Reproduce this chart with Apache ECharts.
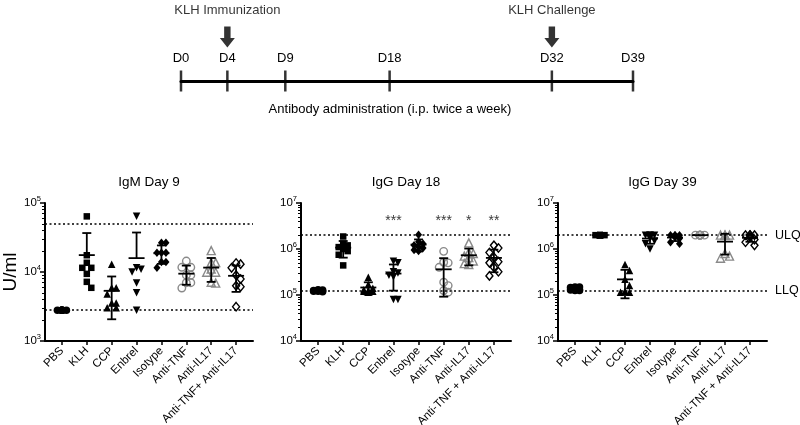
<!DOCTYPE html>
<html><head><meta charset="utf-8">
<script src="https://cdn.jsdelivr.net/npm/echarts@6/dist/echarts.min.js"></script>
<style>html,body{margin:0;padding:0;background:#fff}#c{width:800px;height:425px}</style>
</head><body><div id="c"></div>
<script>
// ================= DATA =================
// Timeline (schematic)
const timelineDays = [0, 4, 9, 18, 32, 39];
const eventDays = [4, 32];
const eventLabels = ['KLH Immunization', 'KLH Challenge'];
const timelineCaption = 'Antibody administration (i.p. twice a week)';

// Categories
const groupsIgM = ['PBS', 'KLH', 'CCP', 'Enbrel', 'Isotype', 'Anti-TNF', 'Anti-IL17', 'Anti-TNF+ Anti-IL17'];
const groupsIgG = ['PBS', 'KLH', 'CCP', 'Enbrel', 'Isotype', 'Anti-TNF', 'Anti-IL17', 'Anti-TNF + Anti-IL17'];
const panelTitles = ['IgM Day 9', 'IgG Day 18', 'IgG Day 39'];
const yAxisName = 'U/ml';

// Axis ranges (U/ml, log10)
const yMin = [1e3, 1e4, 1e4];
const yMax = [1e5, 1e7, 1e7];

// Quantification limits
const igmLimits = [5e4, 2.8e3];
const iggLimits = [2e6, 1.25e5];
const limitNames = ['ULQ', 'LLQ'];

// Individual animals, per group (order = categories)
const igmDay9 = [
  [2800, 2800, 2800, 2800, 2800, 2800, 2800, 2800],
  [64000, 17500, 13600, 11500, 11500, 9400, 7200, 5900],
  [12900, 5900, 5900, 4800, 3560, 3560, 3040, 3040],
  [64000, 11500, 11000, 10000, 6900, 5000, 2800],
  [26500, 26500, 19000, 19000, 19000, 14000, 14000, 11500],
  [14400, 11700, 11700, 9000, 9000, 7000, 7000, 5850],
  [20400, 13700, 13700, 11000, 9900, 9900, 7100, 6900],
  [13500, 13000, 11500, 9000, 7900, 6300, 6100, 3140]
];
const iggDay18 = [
  [130000, 128000, 125000, 125000, 122000, 120000, 120000, 118000],
  [1870000, 1300000, 1200000, 1100000, 1000000, 900000, 750000, 440000],
  [244000, 170000, 140000, 130000, 125000, 120000, 120000, 115000],
  [540000, 500000, 320000, 300000, 270000, 250000, 80000, 80000],
  [2040000, 1440000, 1300000, 1200000, 1100000, 1050000, 950000, 900000],
  [890000, 515000, 500000, 400000, 190000, 160000, 125000, 115000],
  [1360000, 850000, 800000, 700000, 650000, 550000, 480000, 460000],
  [1200000, 1050000, 840000, 660000, 530000, 500000, 400000, 320000, 260000]
];
const sigDay18 = ['', '', '', '***', '', '***', '*', '**'];
const iggDay39 = [
  [150000, 150000, 145000, 140000, 130000, 128000, 125000, 125000],
  [2000000, 2000000, 2000000, 2000000, 2000000, 2000000, 2000000, 2000000],
  [460000, 340000, 220000, 160000, 120000, 115000, 115000],
  [2000000, 2000000, 2000000, 2000000, 1700000, 1500000, 1300000, 1000000],
  [2000000, 2000000, 2000000, 2000000, 1800000, 1700000, 1400000, 1300000],
  [2000000, 2000000, 2000000, 2000000, 2000000, 2000000, 2000000, 2000000],
  [2000000, 2000000, 2000000, 2000000, 800000, 700000, 630000],
  [2000000, 2000000, 2000000, 2000000, 1800000, 1600000, 1400000, 1200000]
];

// ================= LAYOUT / STYLE =================
const FONT = "'Liberation Sans', Arial, Helvetica, sans-serif";
const panelData = [igmDay9, iggDay18, iggDay39];
const panelCats = [groupsIgM, groupsIgG, groupsIgG];
const panelLimits = [igmLimits, iggLimits, iggLimits];
const panelBox = [{ left: 45, width: 208 }, { left: 301, width: 210 }, { left: 558, width: 209 }];
const PLOT_TOP = 203, PLOT_H = 138;
const X_PAD = 0.68;
const SIG_LEVEL = 4e6;      // vertical placement of significance stars (panel 2)
const GRAY = '#8a8a8a';

const groupStyle = [
  { symbol: 'circle', size: 7.5, color: '#000', border: '#000' },
  { symbol: 'rect', size: 6.5, color: '#000', border: '#000' },
  { symbol: 'triangle', size: 7.5, color: '#000', border: '#000' },
  { symbol: 'triangle', size: 7.5, color: '#000', border: '#000', rotate: 180 },
  { symbol: 'diamond', size: [7, 8.5], color: '#000', border: '#000' },
  { symbol: 'circle', size: 7.5, color: 'rgba(255,255,255,0)', border: GRAY, open: true },
  { symbol: 'triangle', size: 8, color: 'rgba(255,255,255,0)', border: GRAY, open: true },
  { symbol: 'diamond', size: [7, 8.5], color: 'rgba(255,255,255,0)', border: '#000', open: true }
];

function meanSd(vals) {
  const n = vals.length;
  const m = vals.reduce((a, b) => a + b, 0) / n;
  const sd = n > 1 ? Math.sqrt(vals.reduce((a, b) => a + (b - m) * (b - m), 0) / (n - 1)) : 0;
  return [m, sd];
}

// simple deterministic beeswarm (pixel offsets) so overlapping points spread sideways
function swarmOffsets(vals, pxPerDecade) {
  const cands = [0, 4.5, -4.5];
  const placed = [];
  return vals.map(v => {
    const y = Math.log10(v) * pxPerDecade;
    let best = 0, bestD = -1;
    for (const dx of cands) {
      let minD = Infinity;
      for (const p of placed) minD = Math.min(minD, Math.hypot(p[0] - dx, p[1] - y));
      if (minD >= 6.5) { best = dx; break; }
      if (minD > bestD) { bestD = minD; best = dx; }
    }
    placed.push([best, y]);
    return best;
  });
}

const grid = [], xAxis = [], yAxis = [], series = [], title = [];
const tickLine = { color: '#000', width: 1.5 };

panelData.forEach((groupVals, k) => {
  const box = panelBox[k];
  const cats = panelCats[k];
  grid.push({ left: box.left, width: box.width, top: PLOT_TOP, height: PLOT_H, containLabel: false, outerBoundsMode: 'none' });
  const idx = cats.map((_, i) => i);
  xAxis.push({
    type: 'value', gridIndex: k, min: -X_PAD, max: cats.length - 1 + X_PAD,
    axisLine: { show: true, onZero: false, lineStyle: { color: '#000', width: 2 } },
    axisTick: { show: true, customValues: idx, length: 4, lineStyle: tickLine },
    axisLabel: { customValues: idx, formatter: v => cats[v], rotate: 45, fontSize: 11.5, color: '#000', margin: 8, fontFamily: FONT },
    splitLine: { show: false }
  });
  const lo = Math.round(Math.log10(yMin[k])), hi = Math.round(Math.log10(yMax[k]));
  const majors = [], minors = [];
  for (let e = lo; e <= hi; e++) {
    majors.push(Math.pow(10, e));
    if (e < hi) for (let m = 2; m <= 9; m++) minors.push(m * Math.pow(10, e));
  }
  yAxis.push({
    type: 'log', logBase: 10, gridIndex: k, min: yMin[k], max: yMax[k], position: 'left',
    axisLine: { show: true, onZero: false, lineStyle: { color: '#000', width: 2 } },
    axisTick: { show: true, customValues: majors, length: 5, lineStyle: tickLine },
    axisLabel: {
      customValues: majors, margin: 4,
      formatter: v => '{b|10}{s|' + Math.round(Math.log10(v)) + '}',
      rich: {
        b: { fontSize: 11.5, lineHeight: 16, color: '#000', fontFamily: FONT },
        s: { fontSize: 7.5, lineHeight: 9, verticalAlign: 'top', color: '#000', fontFamily: FONT }
      }
    },
    splitLine: { show: false },
    name: k === 0 ? yAxisName : '', nameLocation: 'middle', nameGap: 22, nameRotate: 90,
    nameTextStyle: { fontSize: 19, color: '#000', fontFamily: FONT }
  });
  yAxis.push({
    type: 'log', logBase: 10, gridIndex: k, min: yMin[k], max: yMax[k], position: 'left', offset: 0,
    axisLine: { show: false, onZero: false },
    axisTick: { show: true, customValues: minors, length: 3, lineStyle: { color: '#000', width: 1 } },
    axisLabel: { show: false }, splitLine: { show: false }
  });

  const pxPerDecade = PLOT_H / (hi - lo);
  groupVals.forEach((vals, i) => {
    const st = groupStyle[i];
    const offs = swarmOffsets(vals, pxPerDecade);
    const s = {
      type: 'scatter', xAxisIndex: k, yAxisIndex: 2 * k, clip: false, silent: true, z: 3,
      symbol: st.symbol, symbolSize: st.size, symbolRotate: st.rotate || 0,
      itemStyle: { color: st.color, borderColor: st.border, borderWidth: st.open ? 1.4 : 0, opacity: 1 },
      data: vals.map((v, j) => ({ value: [i, v], symbolOffset: [offs[j], 0] }))
    };
    if (i === 0) {
      s.markLine = {
        silent: true, symbol: 'none', animation: false,
        lineStyle: { color: '#000', type: [2, 2.5], width: 1.5 },
        label: { show: k === 2, position: 'end', distance: 8, formatter: p => p.name, fontSize: 12.5, color: '#000', fontFamily: FONT },
        data: panelLimits[k].map((v, j) => ({ yAxis: v, name: limitNames[j] }))
      };
    }
    series.push(s);
  });

  // mean ± SD
  series.push({
    type: 'custom', xAxisIndex: k, yAxisIndex: 2 * k, z: 5, clip: false, silent: true,
    data: groupVals.map((vals, i) => { const ms = meanSd(vals); return [i, ms[0], ms[1]]; }),
    encode: { x: 0, y: 1 },
    renderItem: (params, api) => {
      const i = api.value(0), m = api.value(1), sd = api.value(2);
      const c = api.coord([i, m]);
      const st = { stroke: '#000', lineWidth: 1.8 };
      const ch = [{ type: 'line', shape: { x1: c[0] - 8, y1: c[1], x2: c[0] + 8, y2: c[1] }, style: st }];
      if (sd > 0) {
        const h = api.coord([i, m + sd]);
        ch.push({ type: 'line', shape: { x1: c[0], y1: c[1], x2: c[0], y2: h[1] }, style: st });
        ch.push({ type: 'line', shape: { x1: c[0] - 4.5, y1: h[1], x2: c[0] + 4.5, y2: h[1] }, style: st });
        if (m - sd > 0) {
          const l = api.coord([i, m - sd]);
          ch.push({ type: 'line', shape: { x1: c[0], y1: c[1], x2: c[0], y2: l[1] }, style: st });
          ch.push({ type: 'line', shape: { x1: c[0] - 4.5, y1: l[1], x2: c[0] + 4.5, y2: l[1] }, style: st });
        }
      }
      return { type: 'group', children: ch };
    }
  });

  title.push({
    text: panelTitles[k], left: box.left + box.width / 2, top: 175, textAlign: 'center', padding: 0,
    textStyle: { fontSize: 13.5, fontWeight: 'normal', color: '#000', fontFamily: FONT }
  });
});

// significance stars (IgG Day 18)
series.push({
  type: 'scatter', xAxisIndex: 1, yAxisIndex: 2, symbolSize: 1, silent: true, clip: false, z: 6,
  itemStyle: { color: 'rgba(0,0,0,0)' },
  label: { show: true, position: 'inside', fontSize: 14, color: '#000', fontFamily: FONT },
  data: sigDay18.map((s, i) => ({ value: [i, SIG_LEVEL], label: { formatter: s } })).filter((d, i) => sigDay18[i] !== '')
});

// ---- timeline ----
const TL = grid.length;
grid.push({ left: 181, width: 452, top: 71, height: 20, containLabel: false, outerBoundsMode: 'none' });
xAxis.push({
  type: 'value', gridIndex: TL, min: timelineDays[0], max: timelineDays[timelineDays.length - 1], position: 'top',
  axisLine: { show: true, onZero: true, lineStyle: { color: '#000', width: 3 } },
  axisTick: { show: false },
  axisLabel: { customValues: timelineDays, formatter: v => 'D' + v, margin: 6, fontSize: 13, color: '#000', fontFamily: FONT },
  splitLine: { show: false }
});
yAxis.push({ type: 'value', gridIndex: TL, min: -1, max: 1, show: false });
const TLY = yAxis.length - 1;
series.push({
  type: 'scatter', xAxisIndex: TL, yAxisIndex: TLY, clip: false, silent: true,
  symbol: 'rect', symbolSize: [2.5, 21], itemStyle: { color: '#000' },
  data: timelineDays.map(d => [d, 0])
});
series.push({
  type: 'scatter', xAxisIndex: TL, yAxisIndex: TLY, clip: false, silent: true,
  symbol: 'path://M4,0 L10,0 L10,11 L14,11 L7,20 L0,11 L4,11 Z', symbolSize: [15, 21], symbolOffset: [0, -44],
  itemStyle: { color: '#000' },
  label: { show: true, position: 'top', distance: 10, fontSize: 13, color: '#000', fontFamily: FONT },
  data: eventDays.map((d, j) => ({ value: [d, 0], label: { formatter: eventLabels[j] } }))
});
title.push({
  text: timelineCaption, left: 390, top: 103, textAlign: 'center', padding: 0,
  textStyle: { fontSize: 13, fontWeight: 'normal', color: '#000', fontFamily: FONT }
});

const chart = echarts.init(document.getElementById('c'), null, { renderer: 'canvas', width: 800, height: 425 });
chart.setOption({
  backgroundColor: '#fff', animation: false,
  textStyle: { fontFamily: FONT, color: '#000' },
  title, grid, xAxis, yAxis, series
});
</script>
</body></html>
